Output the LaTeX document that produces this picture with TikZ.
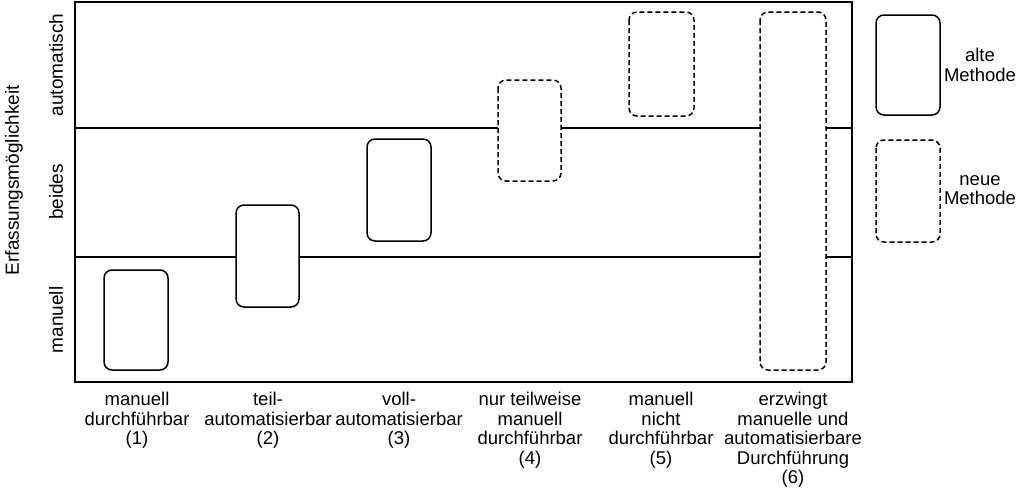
\documentclass[tikz,border=0pt]{standalone}
\usepackage{fontspec}
\setmainfont{Liberation Sans}
\begin{document}
\begin{tikzpicture}[x=1pt,y=-1pt,
  box/.style={draw,line width=1.5pt,rounded corners=8pt,fill=white},
  nbox/.style={box,dash pattern=on 5pt off 3pt},
  lbl/.style={align=center,font=\fontsize{18.5}{19.5}\selectfont,anchor=north,inner sep=0pt},
  ax/.style={font=\fontsize{19}{20}\selectfont,rotate=90}]
\useasboundingbox (0,0) rectangle (1024,501);
\draw[line width=1.5pt] (75,2) rectangle (852,382);
\coordinate (a1) at (75,128); \coordinate (a2) at (852,128);
\coordinate (b1) at (75,257); \coordinate (b2) at (852,257);
\draw[line width=1.3pt] (a1) -- (a2);
\draw[line width=1.3pt] (b1) -- (b2);
\draw[box] (104,270) rectangle (168,370);
\draw[box] (236,205) rectangle (299,307);
\draw[box] (367,139) rectangle (431,241);
\draw[nbox] (498,80) rectangle (561,181);
\draw[nbox] (629,12) rectangle (694,116);
\draw[nbox] (760,12) rectangle (826,370);
\draw[box] (876,15) rectangle (940,115);
\draw[nbox] (876,140) rectangle (940,242);
\node[lbl,anchor=center] (l1) at (980,65) {alte\\Methode};
\node[lbl,anchor=center] (l2) at (980,190) {neue\\Methode};
\node[ax] (y1) at (56,65) {automatisch};
\node[ax] (y2) at (56,192) {beides};
\node[ax] (y3) at (56,320) {manuell};
\node[ax] (y0) at (14,180) {Erfassungsmöglichkeit};
\node[lbl] (t1) at (137,392) {manuell\\durchführbar\\(1)};
\node[lbl] (t2) at (268,392) {teil-\\automatisierbar\\(2)};
\node[lbl] (t3) at (399,392) {voll-\\automatisierbar\\(3)};
\node[lbl] (t4) at (530,392) {nur teilweise\\manuell\\durchführbar\\(4)};
\node[lbl] (t5) at (661,392) {manuell\\nicht\\durchführbar\\(5)};
\node[lbl] (t6) at (793,392) {erzwingt\\manuelle und\\automatisierbare\\Durchführung\\(6)};
\end{tikzpicture}
\end{document}
